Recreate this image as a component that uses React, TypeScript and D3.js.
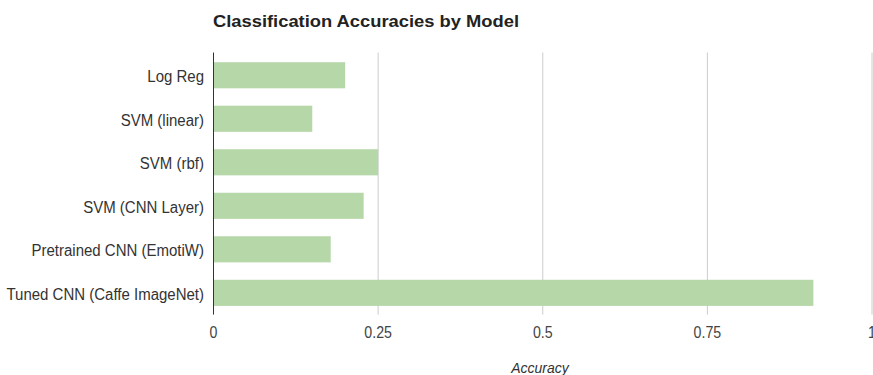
import React from "react";
import * as d3 from "d3";

const categories = [
  "Log Reg",
  "SVM (linear)",
  "SVM (rbf)",
  "SVM (CNN Layer)",
  "Pretrained CNN (EmotiW)",
  "Tuned CNN (Caffe ImageNet)",
];
const accuracies = [0.2, 0.15, 0.25, 0.228, 0.178, 0.911];
const tickValues = [0, 0.25, 0.5, 0.75, 1];
const tickLabels = ["0", "0.25", "0.5", "0.75", "1"];

const W = 873;
const H = 375;
const left = 213.5;
const right = 872;
const top = 53.5;
const bottom = 314.6;

export default function App() {
  const x = d3.scaleLinear().domain([0, 1]).range([left, right]);
  const y = d3
    .scaleBand<string>()
    .domain(categories)
    .range([top, bottom])
    .paddingInner(0.4)
    .paddingOuter(0.2);
  const font = "'Liberation Sans', Arial, sans-serif";
  return (
    <svg
      width={W}
      height={H}
      style={{ position: "absolute", left: 0, top: 0, background: "#fff" }}
      fontFamily={font}
    >
      <text
        x={213}
        y={26.5}
        fontSize={16}
        fontWeight="bold"
        fill="#222"
        textLength={306}
        lengthAdjust="spacingAndGlyphs"
      >
        Classification Accuracies by Model
      </text>
      {tickValues.map((t, i) =>
        i === 0 ? null : (
          <line
            key={"g" + i}
            x1={x(t)}
            x2={x(t)}
            y1={top - 1}
            y2={bottom}
            stroke="#cccccc"
            strokeWidth={1}
          />
        )
      )}
      {categories.map((c, i) => (
        <rect
          key={c}
          x={x(0)}
          y={y(c)}
          width={x(accuracies[i]) - x(0)}
          height={y.bandwidth()}
          fill="#b6d7a8"
        />
      ))}
      <line x1={x(0)} x2={x(0)} y1={top - 1} y2={bottom} stroke="#333" strokeWidth={1} />
      {categories.map((c) => (
        <text
          key={"l" + c}
          transform={`translate(204,${(y(c) as number) + y.bandwidth() / 2 + 6.8}) scale(1,1.08)`}
          textAnchor="end"
          fontSize={15}
          fill="#333"
        >
          {c}
        </text>
      ))}
      {tickValues.map((t, i) => (
        <text
          key={"t" + i}
          transform={`translate(${x(t)},337.5) scale(1,1.15)`}
          textAnchor="middle"
          fontSize={14.2}
          fill="#444"
        >
          {tickLabels[i]}
        </text>
      ))}
      <text
        transform={`translate(540,373) scale(1,1.1)`}
        textAnchor="middle"
        fontSize={14}
        fontStyle="italic"
        fill="#333"
      >
        Accuracy
      </text>
    </svg>
  );
}
